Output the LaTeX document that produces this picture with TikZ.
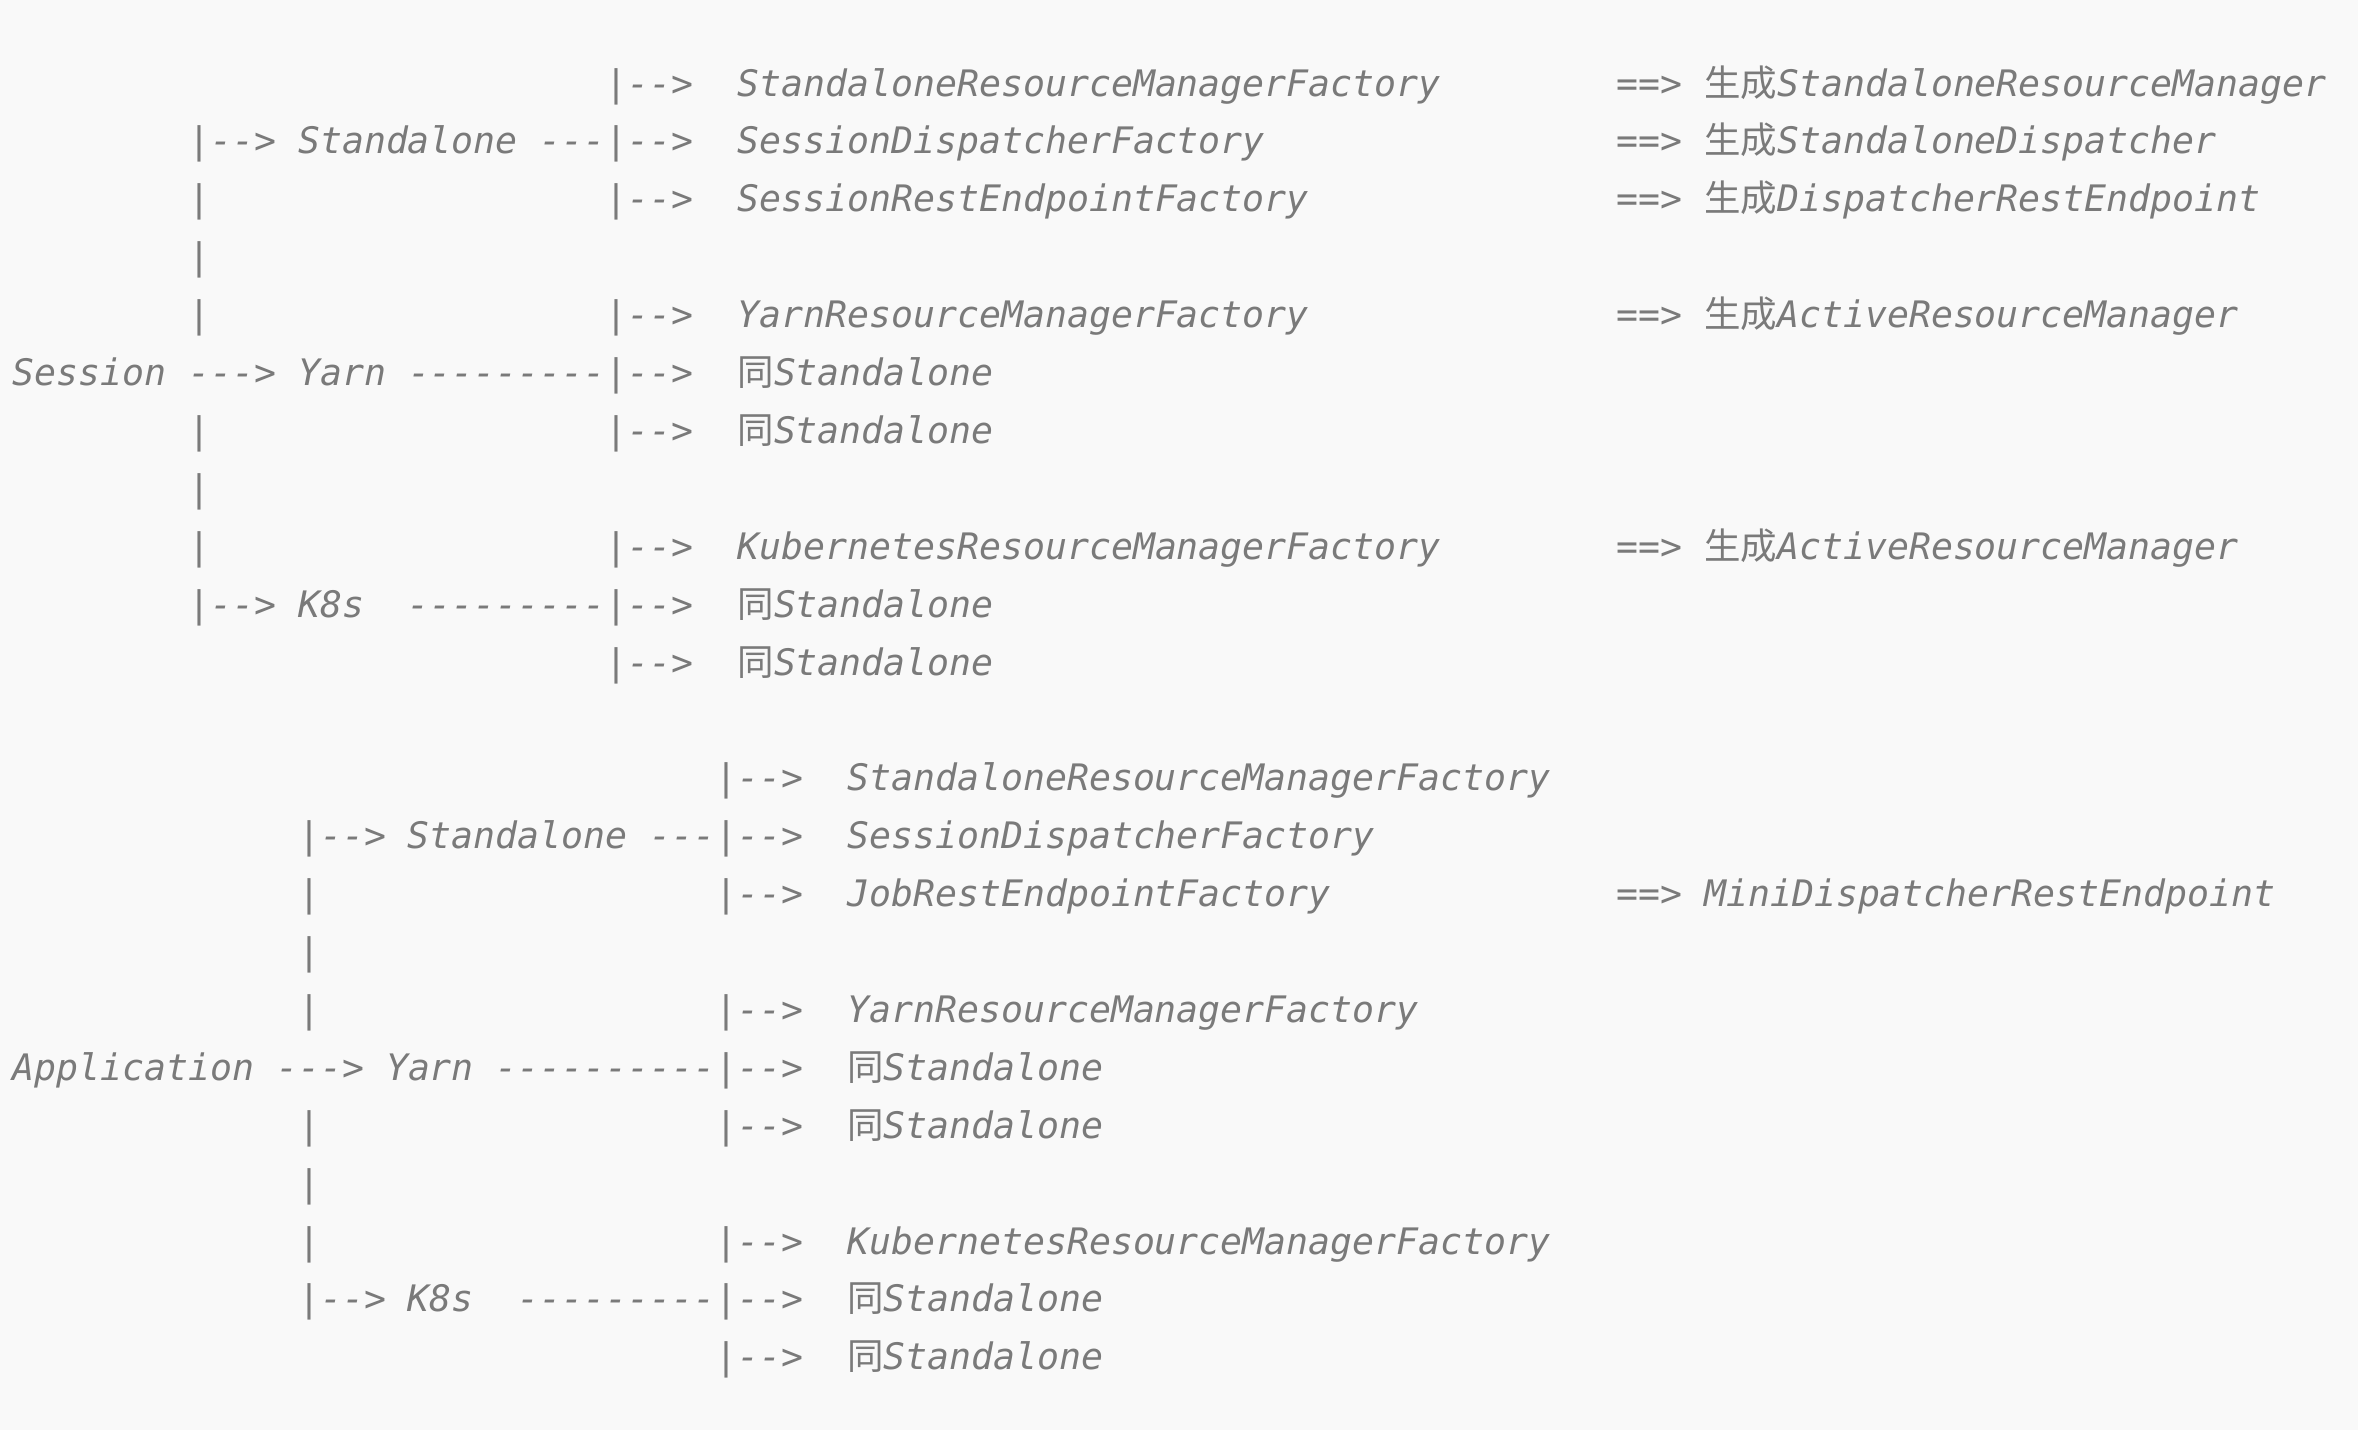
\documentclass[tikz,border=0pt]{standalone}
\usepackage{fontspec}
\setmonofont{DejaVu Sans Mono}
\newfontfamily\cjkfont{Noto Sans CJK SC}
\definecolor{txtgray}{HTML}{7A7A7A}
\definecolor{bggray}{HTML}{F9F9F9}
\newcommand\zh[1]{{\cjkfont\upshape #1}}
\newcommand\putT[4]{\node[txt] (#1) at ({12.5+#2*21.97},{-(96+#3*57.9)}) {#4};}
\tikzset{txt/.style={anchor=base west,inner sep=0pt,outer sep=0pt,text=txtgray,
  font=\ttfamily\itshape\fontsize{18.25}{22}\selectfont}}
\begin{document}
\begin{tikzpicture}[x=0.5pt,y=0.5pt]
\fill[bggray] (0,0) rectangle (2358,-1430);
\useasboundingbox (0,0) rectangle (2358,-1430);
% ---- Session block ----
\putT{a0a}{27}{0}{|-->}
\putT{a0b}{33}{0}{StandaloneResourceManagerFactory}
\putT{a0c}{73}{0}{==> \zh{生成}StandaloneResourceManager}
\putT{a1a}{8}{1}{|--> Standalone ---|-->}
\putT{a1b}{33}{1}{SessionDispatcherFactory}
\putT{a1c}{73}{1}{==> \zh{生成}StandaloneDispatcher}
\putT{a2a}{8}{2}{|}
\putT{a2b}{27}{2}{|-->}
\putT{a2c}{33}{2}{SessionRestEndpointFactory}
\putT{a2d}{73}{2}{==> \zh{生成}DispatcherRestEndpoint}
\putT{a3a}{8}{3}{|}
\putT{a4a}{8}{4}{|}
\putT{a4b}{27}{4}{|-->}
\putT{a4c}{33}{4}{YarnResourceManagerFactory}
\putT{a4d}{73}{4}{==> \zh{生成}ActiveResourceManager}
\putT{a5a}{0}{5}{Session ---> Yarn ---------|-->}
\putT{a5b}{33}{5}{\zh{同}Standalone}
\putT{a6a}{8}{6}{|}
\putT{a6b}{27}{6}{|-->}
\putT{a6c}{33}{6}{\zh{同}Standalone}
\putT{a7a}{8}{7}{|}
\putT{a8a}{8}{8}{|}
\putT{a8b}{27}{8}{|-->}
\putT{a8c}{33}{8}{KubernetesResourceManagerFactory}
\putT{a8d}{73}{8}{==> \zh{生成}ActiveResourceManager}
\putT{a9a}{8}{9}{|--> K8s}
\putT{a9b}{18}{9}{---------|-->}
\putT{a9c}{33}{9}{\zh{同}Standalone}
\putT{a10a}{27}{10}{|-->}
\putT{a10b}{33}{10}{\zh{同}Standalone}
% ---- Application block ----
\putT{b0a}{32}{12}{|-->}
\putT{b0b}{38}{12}{StandaloneResourceManagerFactory}
\putT{b1a}{13}{13}{|--> Standalone ---|-->}
\putT{b1b}{38}{13}{SessionDispatcherFactory}
\putT{b2a}{13}{14}{|}
\putT{b2b}{32}{14}{|-->}
\putT{b2c}{38}{14}{JobRestEndpointFactory}
\putT{b2d}{73}{14}{==> MiniDispatcherRestEndpoint}
\putT{b3a}{13}{15}{|}
\putT{b4a}{13}{16}{|}
\putT{b4b}{32}{16}{|-->}
\putT{b4c}{38}{16}{YarnResourceManagerFactory}
\putT{b5a}{0}{17}{Application ---> Yarn ----------|-->}
\putT{b5b}{38}{17}{\zh{同}Standalone}
\putT{b6a}{13}{18}{|}
\putT{b6b}{32}{18}{|-->}
\putT{b6c}{38}{18}{\zh{同}Standalone}
\putT{b7a}{13}{19}{|}
\putT{b8a}{13}{20}{|}
\putT{b8b}{32}{20}{|-->}
\putT{b8c}{38}{20}{KubernetesResourceManagerFactory}
\putT{b9a}{13}{21}{|--> K8s}
\putT{b9b}{23}{21}{---------|-->}
\putT{b9c}{38}{21}{\zh{同}Standalone}
\putT{b10a}{32}{22}{|-->}
\putT{b10b}{38}{22}{\zh{同}Standalone}
\end{tikzpicture}
\end{document}
